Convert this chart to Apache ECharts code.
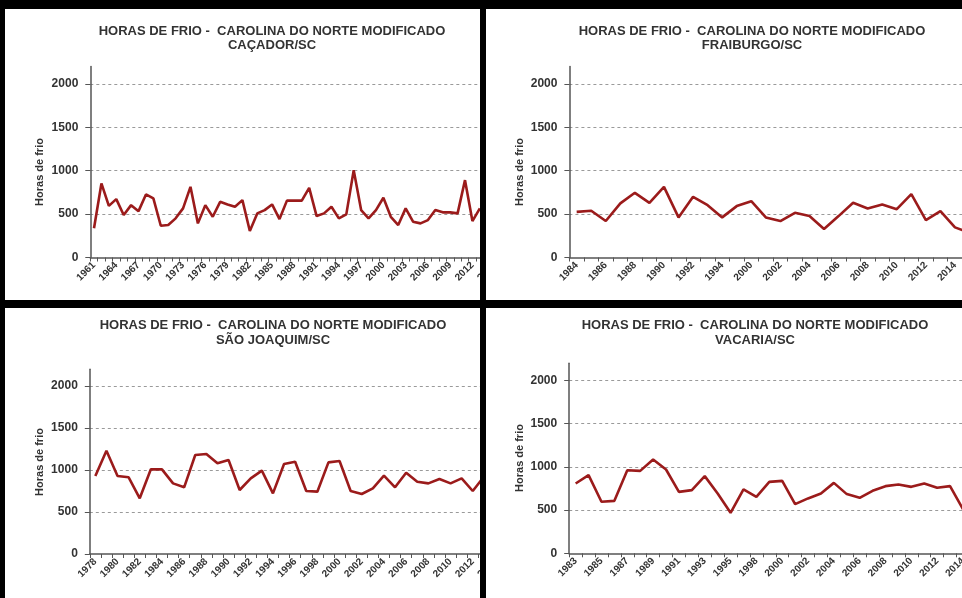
<!DOCTYPE html>
<html>
<head>
<meta charset="utf-8">
<title>Horas de frio - Carolina do Norte Modificado</title>
<script src="https://cdn.jsdelivr.net/npm/echarts@6/dist/echarts.min.js"></script>
<style>
  html, body { margin: 0; padding: 0; width: 962px; height: 598px; overflow: hidden; background: #000; }
  .panel { position: absolute; background: #fff; overflow: hidden; }
  .chart { position: absolute; left: 0; top: 0; }
</style>
</head>
<body>
<div id="p1" class="panel"><div id="c1" class="chart"></div></div>
<div id="p2" class="panel"><div id="c2" class="chart"></div></div>
<div id="p3" class="panel"><div id="c3" class="chart"></div></div>
<div id="p4" class="panel"><div id="c4" class="chart"></div></div>
<script>
// ---- Chill hours (Modified North Carolina model) per station ----

const titleMain = 'HORAS DE FRIO -  CAROLINA DO NORTE MODIFICADO';
const yAxisTitle = 'Horas de frio';
const yTicks = [0, 500, 1000, 1500, 2000];

// Caçador/SC
const cacadorYears = ['1961','1962','1963','1964','1965','1966','1967','1968','1969','1970',
  '1971','1972','1973','1974','1975','1976','1977','1978','1979','1980',
  '1981','1982','1983','1984','1985','1986','1987','1988','1989','1990',
  '1991','1992','1993','1994','1995','1996','1997','1998','1999','2000',
  '2001','2002','2003','2004','2005','2006','2007','2008','2009','2010',
  '2011','2012','2013','2014','2015'];
const cacadorHours = [336, 853, 595, 672, 489, 603, 534, 726, 680, 366,
  374, 451, 566, 814, 393, 603, 469, 641, 611, 584,
  661, 305, 508, 546, 611, 443, 655, 655, 655, 802,
  477, 508, 584, 451, 497, 1006, 546, 451, 546, 688,
  469, 374, 566, 412, 393, 431, 546, 520, 520, 508,
  891, 420, 566, '-', '-'];

// Fraiburgo/SC
const fraiburgoYears = ['1984','1985','1986','1987','1988','1989','1990','1991','1992','1993',
  '1994','1995','2000','2001','2002','2003','2004','2005','2006','2007',
  '2008','2009','2010','2011','2012','2013','2014','2015'];
const fraiburgoHours = [526, 538, 420, 623, 745, 630, 814, 462, 699, 603,
  462, 592, 649, 462, 420, 515, 477, 328, 477, 630,
  565, 611, 557, 730, 431, 534, 347, 285];

// São Joaquim/SC
const saoJoaquimYears = ['1978','1979','1980','1981','1982','1983','1984','1985','1986','1987',
  '1988','1989','1990','1991','1992','1993','1994','1995','1996','1997',
  '1998','1999','2000','2001','2002','2003','2004','2005','2006','2007',
  '2008','2009','2010','2011','2012','2013','2014'];
const saoJoaquimHours = [929, 1230, 929, 913, 663, 1008, 1008, 841, 794, 1179,
  1190, 1079, 1119, 762, 901, 992, 722, 1071, 1099, 750,
  742, 1091, 1107, 750, 714, 782, 932, 794, 968, 861,
  841, 893, 841, 901, 750, 920, '-'];

// Vacaria/SC
const vacariaYears = ['1983','1984','1985','1986','1987','1988','1989','1990','1991','1992',
  '1993','1994','1995','1997','1998','1999','2000','2001','2002','2003',
  '2004','2005','2006','2007','2008','2009','2010','2011','2012','2013','2014'];
const vacariaHours = [808, 904, 596, 607, 962, 954, 1085, 970, 711, 731,
  893, 693, 469, 739, 654, 827, 838, 569, 635, 693,
  815, 685, 642, 723, 777, 796, 769, 808, 758, 777, 510];

// ---- layout of the four framed panels (page pixels) ----
const FONT = '"Liberation Sans", Arial, sans-serif';
const panels = [
  { id: 1, box: [5, 9, 475, 291],   axisX: 90.3,  topY: 66.5,  zeroY: 257.5, catW: 7.42,
    every: 3, station: 'CAÇADOR/SC', cats: cacadorYears, vals: cacadorHours,
    titleX: 272, titleY: [31.7, 45.2], nameX: 40, nameY: 172 },
  { id: 2, box: [486, 9, 476, 291], axisX: 569.4, topY: 66.5,  zeroY: 257.5, catW: 14.55,
    every: 2, station: 'FRAIBURGO/SC', cats: fraiburgoYears, vals: fraiburgoHours,
    titleX: 752, titleY: [31.7, 45.2], nameX: 520, nameY: 172 },
  { id: 3, box: [5, 308, 475, 290], axisX: 89.8,  topY: 369.2, zeroY: 554,   catW: 11.1,
    every: 2, station: 'SÃO JOAQUIM/SC', cats: saoJoaquimYears, vals: saoJoaquimHours,
    titleX: 273, titleY: [325, 340], nameX: 40, nameY: 462 },
  { id: 4, box: [486, 308, 476, 290], axisX: 569.2, topY: 363.2, zeroY: 553.3, catW: 12.91,
    every: 2, station: 'VACARIA/SC', cats: vacariaYears, vals: vacariaHours,
    titleX: 755, titleY: [325, 340], nameX: 520, nameY: 458 }
];

function buildOption(p) {
  const [px, py] = p.box;
  const gridW = p.cats.length * p.catW;
  return {
    animation: false,
    grid: {
      left: p.axisX - px, top: p.topY - py,
      width: gridW, height: p.zeroY - p.topY,
      containLabel: false, outerBoundsMode: 'none'
    },
    xAxis: {
      type: 'category',
      data: p.cats,
      boundaryGap: true,
      axisLine: { lineStyle: { color: '#555', width: 1.5 } },
      axisTick: { show: true, interval: 0, length: 4, lineStyle: { color: '#555', width: 1 } },
      axisLabel: {
        interval: p.every - 1, rotate: 45, margin: 6,
        fontFamily: FONT, fontSize: 10, fontWeight: 'bold', color: '#333',
        hideOverlap: false
      },
      splitLine: { show: false }
    },
    yAxis: {
      type: 'value', min: 0, max: 2200, interval: 500,
      axisLine: { show: true, lineStyle: { color: '#555', width: 1.5 } },
      axisTick: { show: true, length: 5, lineStyle: { color: '#555', width: 1 } },
      axisLabel: {
        showMaxLabel: false, margin: 12,
        fontFamily: FONT, fontSize: 12, fontWeight: 'bold', color: '#333',
        formatter: v => (yTicks.indexOf(v) >= 0 ? String(v) : '')
      },
      splitLine: {
        show: true, showMinLine: false, showMaxLine: false,
        lineStyle: { color: '#9a9a9a', width: 1, type: [3, 3] }
      }
    },
    series: [{
      type: 'line',
      data: p.vals,
      symbol: 'none',
      connectNulls: false,
      lineStyle: { color: '#9b1b1b', width: 2.6 }
    }],
    graphic: [
      { type: 'text', x: p.titleX - px, y: p.titleY[0] - py,
        style: { text: titleMain, font: 'bold 13px ' + FONT, fill: '#333',
                 align: 'center', verticalAlign: 'middle' } },
      { type: 'text', x: p.titleX - px, y: p.titleY[1] - py,
        style: { text: p.station, font: 'bold 13px ' + FONT, fill: '#333',
                 align: 'center', verticalAlign: 'middle' } },
      { type: 'text', x: p.nameX - px, y: p.nameY - py, rotation: Math.PI / 2,
        style: { text: yAxisTitle, font: 'bold 11px ' + FONT, fill: '#333',
                 align: 'center', verticalAlign: 'middle' } }
    ]
  };
}

panels.forEach(p => {
  const [px, py, pw, ph] = p.box;
  const panel = document.getElementById('p' + p.id);
  panel.style.left = px + 'px';
  panel.style.top = py + 'px';
  panel.style.width = pw + 'px';
  panel.style.height = ph + 'px';
  const el = document.getElementById('c' + p.id);
  const chartW = Math.ceil(p.axisX - px + p.cats.length * p.catW + 40);
  el.style.width = chartW + 'px';
  el.style.height = ph + 'px';
  const chart = echarts.init(el, null, { renderer: 'canvas' });
  chart.setOption(buildOption(p));
});
</script>
</body>
</html>
